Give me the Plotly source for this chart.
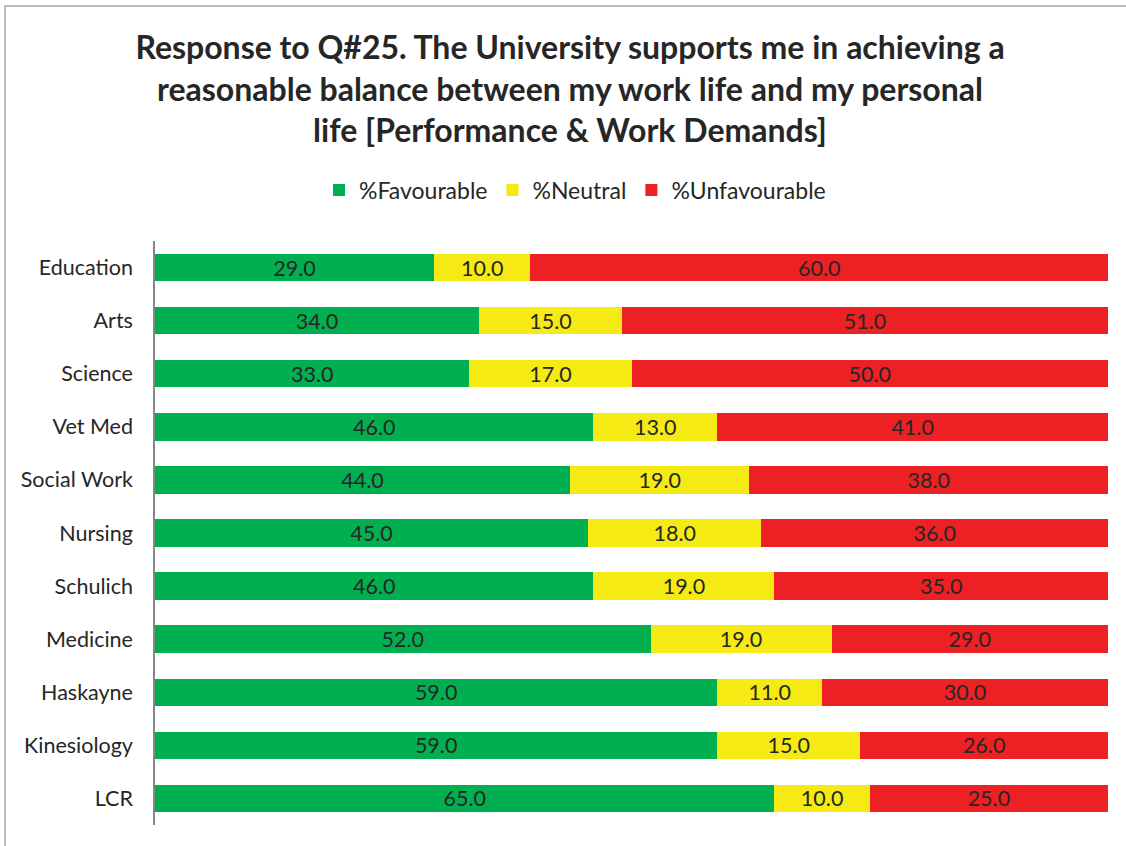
import plotly.graph_objects as go

categories = ["Education", "Arts", "Science", "Vet Med", "Social Work", "Nursing",
              "Schulich", "Medicine", "Haskayne", "Kinesiology", "LCR"]
favourable = [29.0, 34.0, 33.0, 46.0, 44.0, 45.0, 46.0, 52.0, 59.0, 59.0, 65.0]
neutral = [10.0, 15.0, 17.0, 13.0, 19.0, 18.0, 19.0, 19.0, 11.0, 15.0, 10.0]
unfavourable = [60.0, 51.0, 50.0, 41.0, 38.0, 36.0, 35.0, 29.0, 30.0, 26.0, 25.0]

series = [
    ("%Favourable", favourable, "#00B050"),
    ("%Neutral", neutral, "#F5EA14"),
    ("%Unfavourable", unfavourable, "#ED2024"),
]

FONT = "Lato"
TXT = "#262626"
W, H = 1126, 846

fig = go.Figure()
for name, vals, color in series:
    fig.add_trace(go.Bar(
        y=categories, x=vals, name=name, orientation="h",
        marker=dict(color=color, line=dict(width=0)),
        text=[f"{v:.1f}" for v in vals], textposition="inside",
        insidetextanchor="middle", textangle=0, constraintext="none",
        textfont=dict(family=FONT, size=21.5, color=TXT),
        hoverinfo="x+y+name",
    ))

fig.update_layout(
    width=W, height=H,
    barmode="stack", barnorm="percent", bargap=0.484,
    margin=dict(l=155, r=18, t=241, b=21),
    paper_bgcolor="white", plot_bgcolor="white",
    font=dict(family=FONT, color=TXT),
    uniformtext=dict(mode="show", minsize=21.5),
    title=dict(
        text="Response to Q#25. The University supports me in achieving a<br>"
             "reasonable balance between my work life and my personal<br>"
             "life [Performance &amp; Work Demands]",
        x=570 / W, xanchor="center", xref="container",
        y=1 - 59 / H, yanchor="middle", yref="container",
        font=dict(family=FONT, size=32, color=TXT, weight="bold"),
    ),
    legend=dict(
        orientation="h", xref="container", yref="container",
        x=575 / W, xanchor="center", y=1 - 190 / H, yanchor="middle",
        font=dict(family=FONT, size=23, color=TXT),
        itemwidth=30, traceorder="normal",
    ),
    xaxis=dict(range=[0, 100], showticklabels=False, showgrid=False,
               zeroline=False, showline=False, fixedrange=True),
    yaxis=dict(autorange="reversed", showline=True, linecolor="#868686",
               linewidth=1.5, ticks="", showgrid=False, ticklabelstandoff=16,
               tickfont=dict(family=FONT, size=21.5, color=TXT)),
    showlegend=True,
)

fig.add_shape(type="rect", xref="paper", yref="paper",
              x0=(5 - 155) / 953, x1=1.2, y0=-0.3, y1=(825 - 6) / 584,
              line=dict(color="#A6A6A6", width=1.5), fillcolor="rgba(0,0,0,0)",
              layer="below")

fig.write_html("out.html", config={"displayModeBar": False},
               post_script="document.body.style.margin='0';document.body.style.overflow='hidden';")
